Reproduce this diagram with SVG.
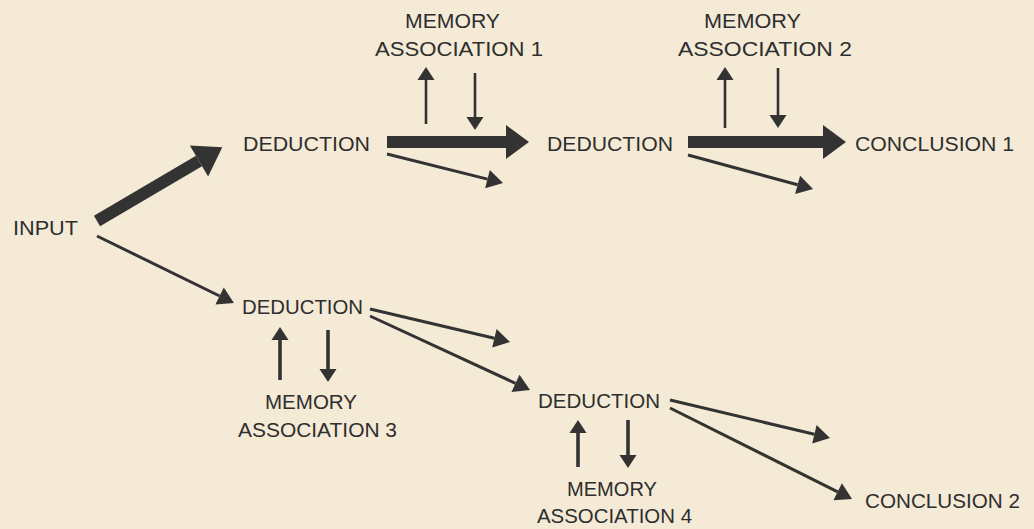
<svg xmlns="http://www.w3.org/2000/svg" width="1034" height="529" viewBox="0 0 1034 529">
<style>
text{font-family:"Liberation Sans",Arial,sans-serif;font-size:20.5px;fill:#2e2e2e}
.ln{stroke:#333;fill:none;stroke-linecap:butt}
.thick{stroke-width:12}
.thin{stroke-width:3}
.vt{stroke-width:2.6}
.vb{stroke-width:3.6}
</style>
<defs>
<marker id="hThick" markerUnits="userSpaceOnUse" markerWidth="30" markerHeight="40" refX="0" refY="0" orient="auto" overflow="visible"><path d="M0,-17 L23,0 L0,17 z" fill="#333"/></marker>
<marker id="hBig" markerUnits="userSpaceOnUse" markerWidth="30" markerHeight="40" refX="0" refY="0" orient="auto" overflow="visible"><path d="M0,-18 L27,0 L0,18 z" fill="#333"/></marker>
<marker id="hThin" markerUnits="userSpaceOnUse" markerWidth="20" markerHeight="20" refX="0" refY="0" orient="auto" overflow="visible"><path d="M0,-9.5 L16,0 L0,9.5 z" fill="#333"/></marker>
<marker id="hV" markerUnits="userSpaceOnUse" markerWidth="20" markerHeight="20" refX="0" refY="0" orient="auto" overflow="visible"><path d="M0,-8.5 L13,0 L0,8.5 z" fill="#333"/></marker>
</defs>
<rect width="1034" height="529" fill="#f4ead6"/>
<g id="connectors">
<line class="ln thick" x1="97" y1="221" x2="199" y2="161" marker-end="url(#hBig)"/>
<line class="ln thick" x1="387" y1="142" x2="506" y2="142" marker-end="url(#hThick)"/>
<line class="ln thick" x1="688" y1="142" x2="823" y2="142" marker-end="url(#hThick)"/>
<line class="ln thin" x1="387" y1="154" x2="487.5" y2="179.1" marker-end="url(#hThin)"/>
<line class="ln thin" x1="688" y1="155" x2="797.6" y2="184.8" marker-end="url(#hThin)"/>
<line class="ln thin" x1="97" y1="236" x2="219.6" y2="296" marker-end="url(#hThin)"/>
<line class="ln thin" x1="370" y1="309" x2="494.4" y2="338.3" marker-end="url(#hThin)"/>
<line class="ln thin" x1="370" y1="316" x2="515.5" y2="383.3" marker-end="url(#hThin)"/>
<line class="ln thin" x1="670" y1="400" x2="814.4" y2="434.3" marker-end="url(#hThin)"/>
<line class="ln thin" x1="670" y1="408" x2="837.7" y2="491.8" marker-end="url(#hThin)"/>
<line class="ln vt" x1="426" y1="124" x2="426" y2="80" marker-end="url(#hV)"/>
<line class="ln vt" x1="475" y1="73" x2="475" y2="117" marker-end="url(#hV)"/>
<line class="ln vt" x1="725" y1="128" x2="725" y2="80" marker-end="url(#hV)"/>
<line class="ln vt" x1="778" y1="68" x2="778" y2="115" marker-end="url(#hV)"/>
<line class="ln vb" x1="280" y1="380" x2="280" y2="340" marker-end="url(#hV)"/>
<line class="ln vb" x1="328" y1="330" x2="328" y2="369" marker-end="url(#hV)"/>
<line class="ln vb" x1="578" y1="467" x2="578" y2="433" marker-end="url(#hV)"/>
<line class="ln vb" x1="628" y1="420" x2="628" y2="455" marker-end="url(#hV)"/>
</g>
<g id="input"><text x="13" y="235" textLength="65" lengthAdjust="spacingAndGlyphs">INPUT</text></g>
<g id="deduction1"><text x="243" y="151" textLength="127" lengthAdjust="spacingAndGlyphs">DEDUCTION</text></g>
<g id="deduction2"><text x="547" y="151" textLength="126" lengthAdjust="spacingAndGlyphs">DEDUCTION</text></g>
<g id="conclusion1"><text x="855" y="151" textLength="159" lengthAdjust="spacingAndGlyphs">CONCLUSION 1</text></g>
<g id="memory1"><text x="405" y="28" textLength="95" lengthAdjust="spacingAndGlyphs">MEMORY</text><text x="375" y="56" textLength="168" lengthAdjust="spacingAndGlyphs">ASSOCIATION 1</text></g>
<g id="memory2"><text x="704" y="28" textLength="97" lengthAdjust="spacingAndGlyphs">MEMORY</text><text x="678" y="56" textLength="174" lengthAdjust="spacingAndGlyphs">ASSOCIATION 2</text></g>
<g id="deduction3"><text x="242" y="314" textLength="121" lengthAdjust="spacingAndGlyphs">DEDUCTION</text></g>
<g id="memory3"><text x="265" y="409" textLength="92" lengthAdjust="spacingAndGlyphs">MEMORY</text><text x="238" y="437" textLength="159" lengthAdjust="spacingAndGlyphs">ASSOCIATION 3</text></g>
<g id="deduction4"><text x="538" y="408" textLength="122" lengthAdjust="spacingAndGlyphs">DEDUCTION</text></g>
<g id="memory4"><text x="567" y="496" textLength="90" lengthAdjust="spacingAndGlyphs">MEMORY</text><text x="537" y="523" textLength="155" lengthAdjust="spacingAndGlyphs">ASSOCIATION 4</text></g>
<g id="conclusion2"><text x="865" y="508" textLength="155" lengthAdjust="spacingAndGlyphs">CONCLUSION 2</text></g>
</svg>
